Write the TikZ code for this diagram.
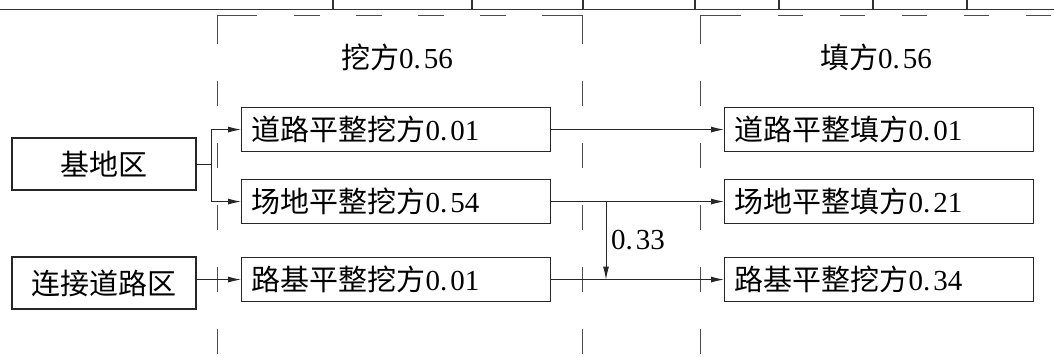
\documentclass[tikz,border=0pt]{standalone}
\usepackage{fontspec}
\setmainfont{Liberation Serif}
\newfontfamily\cjk{Noto Sans CJK SC}
\usetikzlibrary{arrows.meta}
\begin{document}
\begin{tikzpicture}[x=1pt,y=-1pt,
  txt/.style={font=\fontsize{29}{31}\selectfont, inner sep=0pt},
  cbox/.style={txt, draw=black!85, line width=1.1pt, minimum width=184pt, minimum height=52pt},
  lbox/.style={txt, draw=black!85, line width=1.1pt, anchor=north west, inner xsep=10pt,
               text width=289pt, align=left, minimum height=44pt},
  conn/.style={line width=0.9pt, black!85},
  arr/.style={conn, -{Latex[length=13pt,width=6pt]}},
  dsh/.style={line width=1pt, black!70},
  frame/.style={line width=1.2pt, black!80}]
\useasboundingbox (0,0) rectangle (1054,356);

% top frame line with ticks
\draw[frame] (0,9.5) -- (1054,9.5);
\foreach \x in {333,472,583,695,779,873,967} \draw[frame] (\x,0) -- (\x,9.5);

% dashed region outlines
\draw[dsh] (217,44) -- (217,15) -- (257,15);
\draw[dsh] (542,15) -- (582,15) -- (582,44);
\draw[dsh, dash pattern=on 26pt off 36pt] (294,15) -- (520,15);
\draw[dsh] (700,44) -- (700,15) -- (741,15);
\draw[dsh, dash pattern=on 25pt off 37pt] (778,15) -- (1054,15);
\foreach \x in {217,582,700}
  \draw[dsh, dash pattern=on 25pt off 37pt] (\x,81) -- (\x,356);

% headings
\node[txt] (hw) at (397,57) {{\cjk 挖方}0.\kern3pt56};
\node[txt] (ht) at (876,57) {{\cjk 填方}0.\kern3pt56};

% source boxes
\node[cbox] (jd) at (104,164) {\cjk 基地区};
\node[cbox] (lj) at (104,283) {\cjk 连接道路区};

% cut boxes
\node[lbox] (w1) at (241,107) {{\cjk 道路平整挖方}0.\kern3pt01};
\node[lbox] (w2) at (241,179) {{\cjk 场地平整挖方}0.\kern3pt54};
\node[lbox] (w3) at (241,257) {{\cjk 路基平整挖方}0.\kern3pt01};

% fill boxes
\node[lbox] (f1) at (724,107) {{\cjk 道路平整填方}0.\kern3pt01};
\node[lbox] (f2) at (724,179) {{\cjk 场地平整填方}0.\kern3pt21};
\node[lbox] (f3) at (724,257) {{\cjk 路基平整挖方}0.\kern3pt34};

% connectors
\coordinate (s1) at (211,164);
\draw[conn] (jd.east) -- (s1);
\draw[arr] (s1) |- (w1.west);
\draw[arr] (s1) |- (w2.west);
\draw[arr] (lj.east |- w3.west) -- (w3.west);
\draw[arr] (w1.east) -- (f1.west);
\draw[arr] (w2.east) -- (f2.west);
\draw[arr] (w3.east) -- (f3.west);
\coordinate (s2) at (606,201);
\draw[arr] (s2) -- (s2 |- w3.east);
\node[txt, anchor=west] (l33) at (611,240) {0.\kern3pt33};
\end{tikzpicture}
\end{document}
